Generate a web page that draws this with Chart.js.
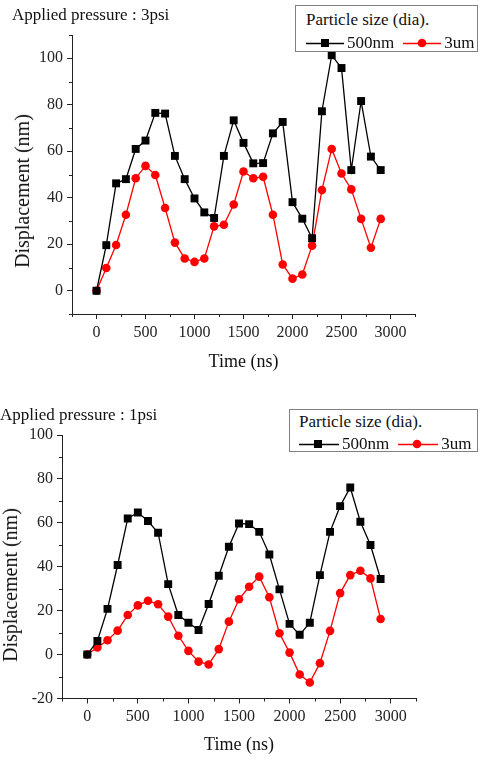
<!DOCTYPE html>
<html>
<head>
<meta charset="utf-8">
<title>Displacement vs time</title>
<script src="https://cdn.jsdelivr.net/npm/chart.js@4.4.1/dist/chart.umd.min.js"></script>
<style>
  body { margin: 0; background: #fff; }
  #page { position: relative; width: 480px; height: 757px; overflow: hidden;
          font-family: 'Liberation Serif', 'Times New Roman', serif; color: #111; }
  canvas { position: absolute; left: 0; }
  .note { position: absolute; font-size: 17px; line-height: 20px; white-space: nowrap; }
  .ytitle { position: absolute; font-size: 20px; line-height: 22px; white-space: nowrap;
            transform: translate(-50%, -50%) rotate(-90deg); }
  .legend { position: absolute; box-sizing: border-box; border: 1px solid #808080; background: #fff;
            font-size: 17px; line-height: 20px; white-space: nowrap; }
  .legend .head { position: absolute; }
  .legend .row { position: absolute; display: flex; align-items: center; }
  .legend .item { display: flex; align-items: center; margin-right: 9px; }
  .legend svg { display: block; margin-right: 3px; }
</style>
</head>
<body>
<div id="page">
  <canvas id="chart-3psi" width="480" height="380" style="top:0"></canvas>
  <canvas id="chart-1psi" width="480" height="377" style="top:380px"></canvas>

  <div class="note" style="left:12px; top:5px">Applied pressure : 3psi</div>
  <div class="note" style="left:0; top:405px">Applied pressure : 1psi</div>
  <div class="ytitle" style="left:22px; top:191px">Displacement (nm)</div>
  <div class="ytitle" style="left:10px; top:585px">Displacement (nm)</div>

  <div class="legend" id="legend-3psi" style="left:295px; top:5px; width:183px; height:47px"></div>
  <div class="legend" id="legend-1psi" style="left:289px; top:409px; width:189px; height:43px"></div>
</div>

<script>
// time axis, ns
const times = [0, 100, 200, 300, 400, 500, 600, 700, 800, 900, 1000, 1100, 1200, 1300, 1400,
  1500, 1600, 1700, 1800, 1900, 2000, 2100, 2200, 2300, 2400, 2500, 2600, 2700, 2800, 2900];

const seriesNames = ['500nm', '3um'];
const legendTitle = 'Particle size (dia).';

// 3 psi, displacement in nm
const psi3_500nm = [0, 19.6, 46.2, 48, 61, 64.6, 76.5, 76.2, 58, 48, 39.7, 33.7, 31.3, 58, 73.3,
  63.6, 54.8, 54.9, 67.7, 72.6, 38.1, 31, 22.6, 77.2, 101.3, 95.8, 51.9, 81.6, 57.7, 51.9];
const psi3_3um = [0, 9.8, 19.7, 32.7, 48.4, 53.7, 49.8, 35.6, 20.7, 13.9, 12.4, 13.9, 27.7, 28.4, 37.1,
  51.3, 48.4, 49, 32.7, 11.3, 5.2, 7, 19.4, 43.3, 61, 50.4, 43.6, 30.9, 18.5, 30.9];

// 1 psi
const psi1_500nm = [0, 6.2, 20.8, 40.8, 62, 64.7, 60.8, 55.5, 32.1, 18, 14.5, 11.2, 23, 35.9, 49.1,
  59.7, 59.4, 55.9, 45.6, 29.7, 14, 9, 14.5, 36.2, 55.9, 67.6, 76.1, 60.5, 49.9, 34.4];
const psi1_3um = [0, 3.2, 6.5, 10.9, 18, 22.4, 24.5, 22.9, 17.3, 8.6, 1.7, -3.2, -4.5, 2.5, 15,
  25.2, 30.9, 35.5, 26.1, 9.7, 0.9, -9.1, -12.7, -3.9, 10.8, 28, 36.2, 38.2, 34.7, 16.2];

// tick values
const xTicks = [0, 500, 1000, 1500, 2000, 2500, 3000];
const xMinor = [-250, 250, 750, 1250, 1750, 2250, 2750, 3250];
const yTicks3psi = [0, 20, 40, 60, 80, 100];
const yMinor3psi = [-10, 10, 30, 50, 70, 90, 110];
const yTicks1psi = [-20, 0, 20, 40, 60, 80, 100];
const yMinor1psi = [-10, 10, 30, 50, 70, 90];

const seriesColors = ['#000000', '#ff0000'];
const FONT = "'Liberation Serif', 'Times New Roman', serif";

const toPoints = values => values.map((v, i) => ({ x: times[i], y: v }));

// short minor tick marks, placed through the chart's own scales
const minorTicks = {
  id: 'minorTicks',
  afterDraw(chart, args, opts) {
    const { ctx, scales: { x, y } } = chart;
    ctx.save();
    ctx.strokeStyle = '#222';
    ctx.lineWidth = 1;
    ctx.beginPath();
    opts.x.forEach(v => {
      const px = Math.round(x.getPixelForValue(v)) + 0.5;
      ctx.moveTo(px, x.top);
      ctx.lineTo(px, x.top + 3);
    });
    opts.y.forEach(v => {
      const py = Math.round(y.getPixelForValue(v)) + 0.5;
      ctx.moveTo(y.right, py);
      ctx.lineTo(y.right - 3, py);
    });
    ctx.stroke();
    ctx.restore();
  }
};

function makeChart(id, cfg) {
  const axisBase = {
    border: { display: true, color: '#222', width: 1 },
    grid: { display: true, drawOnChartArea: false, drawTicks: true, tickLength: 5, color: '#222' },
    ticks: { color: '#222', font: { family: FONT, size: 16 }, padding: 4, autoSkip: false,
             maxRotation: 0, callback: v => String(v) }
  };
  return new Chart(document.getElementById(id), {
    type: 'line',
    data: {
      datasets: [
        {
          label: seriesNames[0],
          data: toPoints(cfg.black),
          borderColor: seriesColors[0],
          backgroundColor: seriesColors[0],
          borderWidth: 1.3,
          pointStyle: 'rect',
          pointRadius: 5.6,
          pointBorderWidth: 0,
          tension: 0
        },
        {
          label: seriesNames[1],
          data: toPoints(cfg.red),
          borderColor: seriesColors[1],
          backgroundColor: seriesColors[1],
          borderWidth: 1.3,
          pointStyle: 'circle',
          pointRadius: 4.3,
          pointBorderWidth: 0,
          tension: 0
        }
      ]
    },
    options: {
      responsive: false,
      animation: false,
      devicePixelRatio: 1,
      layout: { padding: { top: cfg.top, right: cfg.right, bottom: 0, left: 0 } },
      plugins: {
        legend: { display: false },
        tooltip: { enabled: false },
        minorTicks: { x: xMinor, y: cfg.yMinor }
      },
      scales: {
        x: {
          ...axisBase,
          type: 'linear',
          min: -250,
          max: 3250,
          afterBuildTicks: scale => { scale.ticks = xTicks.map(v => ({ value: v })); },
          afterFit: scale => {
            scale.height = cfg.xHeight;
            scale.paddingLeft = scale.paddingRight = 0;
          },
          title: {
            display: true,
            text: 'Time (ns)',
            color: '#111',
            font: { family: FONT, size: 18 },
            padding: { top: 0, bottom: cfg.xTitlePad }
          }
        },
        y: {
          ...axisBase,
          type: 'linear',
          min: cfg.yMin,
          max: cfg.yMax,
          afterBuildTicks: scale => { scale.ticks = cfg.yTicks.map(v => ({ value: v })); },
          afterFit: scale => {
            scale.width = cfg.yWidth;
            scale.paddingTop = scale.paddingBottom = 0;
          }
        }
      }
    },
    plugins: [minorTicks]
  });
}

function buildLegend(id, cfg) {
  const box = document.getElementById(id);
  const head = document.createElement('div');
  head.className = 'head';
  head.style.left = cfg.left + 'px';
  head.style.top = cfg.headTop + 'px';
  head.textContent = legendTitle;
  box.appendChild(head);

  const row = document.createElement('div');
  row.className = 'row';
  row.style.left = cfg.left + 'px';
  row.style.top = cfg.rowTop + 'px';
  seriesNames.forEach((name, i) => {
    const c = seriesColors[i];
    const marker = i === 0
      ? `<rect x="15" y="2" width="8" height="8" fill="${c}"/>`
      : `<circle cx="19" cy="6" r="4.3" fill="${c}"/>`;
    const item = document.createElement('div');
    item.className = 'item';
    item.innerHTML = `<svg width="${cfg.lineW}" height="12"><line x1="0" y1="6.5" x2="${cfg.lineW}" y2="6.5" stroke="${c}" stroke-width="1.3"/>${marker}</svg><span>${name}</span>`;
    row.appendChild(item);
  });
  box.appendChild(row);
}

makeChart('chart-3psi', {
  black: psi3_500nm, red: psi3_3um,
  yMin: -10, yMax: 110, yTicks: yTicks3psi, yMinor: yMinor3psi,
  top: 35, right: 65, yWidth: 72, xHeight: 66, xTitlePad: 6.5
});
makeChart('chart-1psi', {
  black: psi1_500nm, red: psi1_3um,
  yMin: -20, yMax: 100, yTicks: yTicks1psi, yMinor: yMinor1psi,
  top: 55, right: 64, yWidth: 62, xHeight: 58.5, xTitlePad: 1.2
});

buildLegend('legend-3psi', { left: 10, headTop: 4, rowTop: 27, lineW: 38 });
buildLegend('legend-1psi', { left: 9, headTop: 2, rowTop: 24, lineW: 40 });
</script>
</body>
</html>
